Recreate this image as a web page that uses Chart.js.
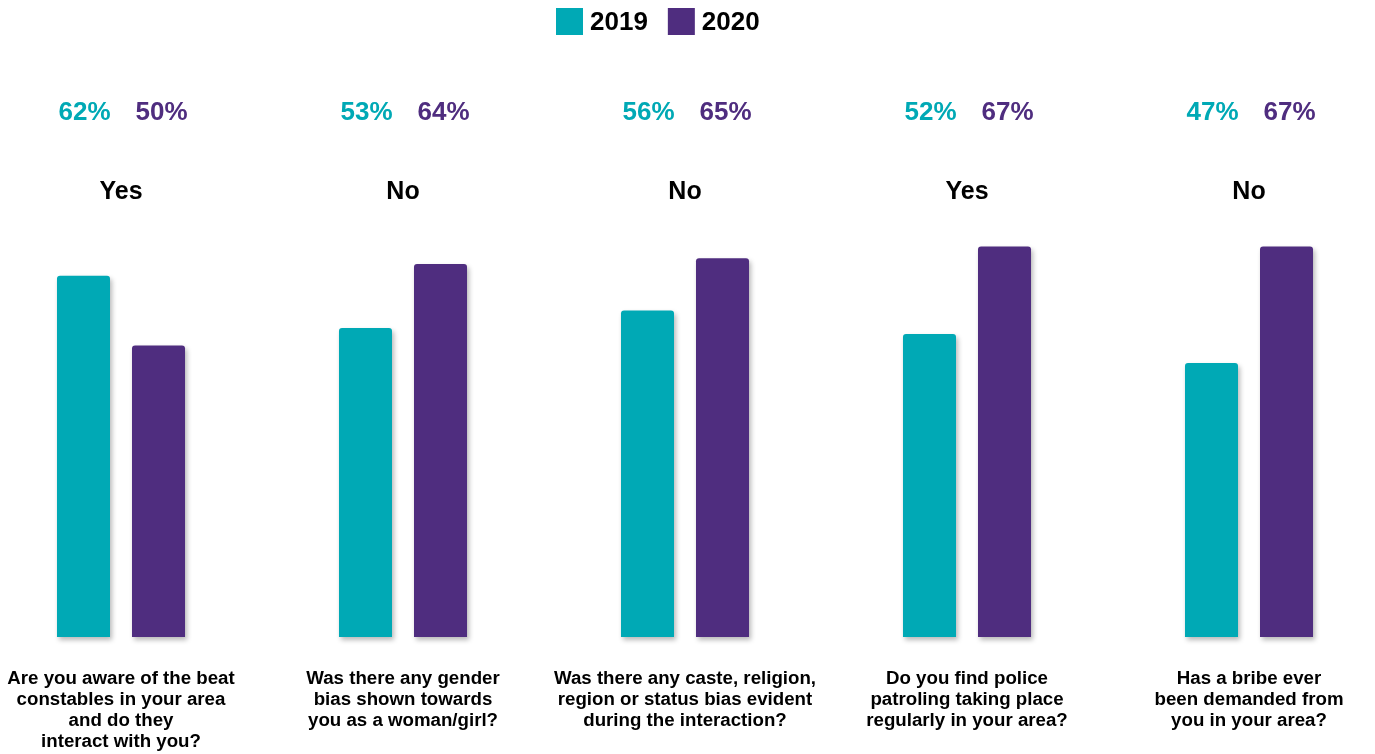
<!DOCTYPE html>
<html>
<head>
<meta charset="utf-8">
<title>Survey 2019 vs 2020</title>
<script src="https://cdn.jsdelivr.net/npm/chart.js@4/dist/chart.umd.min.js"></script>
<style>
  html, body { margin: 0; padding: 0; background: #fff; }
  #wrap { position: relative; width: 1375px; height: 754px; }
</style>
</head>
<body>
<div id="wrap"><canvas id="surveyChart"></canvas></div>
<script>
// Questions asked (one per group), wrapped the way they are printed under the bars
const categories = [
    ['Are you aware of the beat', 'constables in your area', 'and do they', 'interact with you?'],
    ['Was there any gender', 'bias shown towards', 'you as a woman/girl?'],
    ['Was there any caste, religion,', 'region or status bias evident', 'during the interaction?'],
    ['Do you find police', 'patroling taking place', 'regularly in your area?'],
    ['Has a bribe ever', 'been demanded from', 'you in your area?']
];
// Answer the percentages refer to
const answers = ['Yes', 'No', 'No', 'Yes', 'No'];

const seriesLabels = ['2019', '2020'];
const values2019 = [62, 53, 56, 52, 47];
const values2020 = [50, 64, 65, 67, 67];

const TEAL = '#00a9b5';
const PURPLE = '#4f2d7f';
const FONT = '"Liberation Sans", Arial, Helvetica, sans-serif';

// soft drop shadow under the bars
const barShadow = {
    id: 'barShadow',
    beforeDatasetsDraw(chart) {
        const ctx = chart.ctx;
        ctx.save();
        ctx.shadowColor = 'rgba(0, 0, 0, 0.28)';
        ctx.shadowBlur = 5;
        ctx.shadowOffsetX = 2;
        ctx.shadowOffsetY = 3;
    },
    afterDatasetsDraw(chart) {
        chart.ctx.restore();
    }
};

// percentages, Yes/No answer and the legend at the top
const annotations = {
    id: 'annotations',
    afterDraw(chart) {
        const ctx = chart.ctx;
        ctx.save();
        ctx.textBaseline = 'middle';
        ctx.textAlign = 'center';

        ctx.font = 'bold 26px ' + FONT;
        chart.data.datasets.forEach((ds, di) => {
            const meta = chart.getDatasetMeta(di);
            meta.data.forEach((bar, i) => {
                ctx.fillStyle = ds.backgroundColor;
                ctx.fillText(ds.data[i] + '%', bar.x + (di === 0 ? 1 : 3), 113);
            });
        });

        ctx.font = 'bold 25px ' + FONT;
        ctx.fillStyle = '#000';
        const xScale = chart.scales.x;
        answers.forEach((a, i) => {
            ctx.fillText(a, xScale.getPixelForValue(i), 192);
        });

        // legend
        ctx.textAlign = 'left';
        ctx.font = 'bold 26px ' + FONT;
        let x = 556;
        chart.data.datasets.forEach(ds => {
            ctx.fillStyle = ds.backgroundColor;
            ctx.fillRect(x, 8, 27, 27);
            ctx.fillStyle = '#000';
            ctx.fillText(ds.label, x + 34, 22.5);
            x += 34 + ctx.measureText(ds.label).width + 20;
        });
        ctx.restore();
    }
};

const chart = new Chart(document.getElementById('surveyChart'), {
    type: 'bar',
    data: {
        labels: categories,
        datasets: [
            { label: seriesLabels[0], data: values2019, backgroundColor: TEAL },
            { label: seriesLabels[1], data: values2020, backgroundColor: PURPLE }
        ]
    },
    options: {
        responsive: true,
        maintainAspectRatio: false,
        animation: false,
        layout: { padding: { top: 229, left: 121, right: 126, bottom: 0 } },
        datasets: {
            bar: {
                categoryPercentage: 0.532,
                barPercentage: 0.707,
                borderRadius: 3,
                borderSkipped: 'start',
                clip: false
            }
        },
        scales: {
            x: {
                offset: false,
                grid: { display: false },
                border: { display: false },
                afterFit(scale) {
                    // the layout padding already leaves room for the outer labels
                    scale.height = 117;
                    scale.paddingLeft = 0;
                    scale.paddingRight = 0;
                },
                ticks: {
                    autoSkip: false,
                    maxRotation: 0,
                    padding: 23,
                    color: '#000',
                    font: { family: FONT, size: 18.7, weight: 'bold', lineHeight: 1.13 }
                }
            },
            y: {
                display: false,
                min: 0,
                max: 70
            }
        },
        plugins: {
            legend: { display: false },
            tooltip: { enabled: false }
        }
    },
    plugins: [barShadow, annotations]
});
</script>
</body>
</html>
